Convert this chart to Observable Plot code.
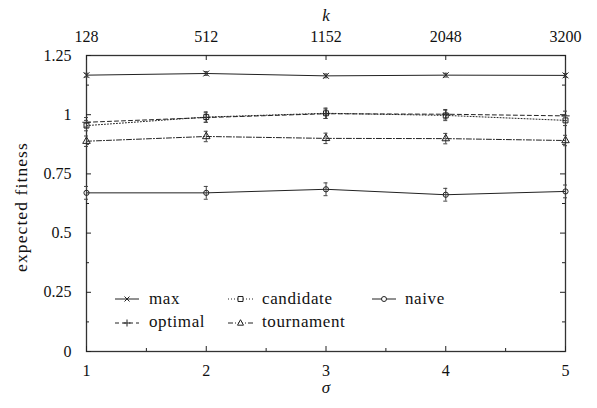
<!DOCTYPE html>
<html><head><meta charset="utf-8">
<script src="https://cdn.jsdelivr.net/npm/d3@7"></script>
<script src="https://cdn.jsdelivr.net/npm/@observablehq/plot@0.6"></script>
<style>
body{margin:0;background:#fff;}
#wrap{position:relative;width:597px;height:408px;font-family:"Liberation Serif",serif;}
#legend{position:absolute;left:0;top:0;pointer-events:none;}
</style></head>
<body><div id="wrap"></div>
<script>
const sigma = [1, 2, 3, 4, 5];
const kLabels = [128, 512, 1152, 2048, 3200];
const yTicks = [0, 0.25, 0.5, 0.75, 1, 1.25];
const yMinor = [0.125, 0.375, 0.625, 0.875, 1.125];
const xMinor = [1.5, 2.5, 3.5, 4.5];

const maxVals = [1.167, 1.174, 1.164, 1.167, 1.166];
const maxErr = [0.008, 0.008, 0.008, 0.008, 0.008];
const optimalVals = [0.968, 0.988, 1.004, 1.002, 0.995];
const optimalErr = [0.02, 0.02, 0.02, 0.02, 0.02];
const candidateVals = [0.954, 0.990, 1.006, 0.997, 0.976];
const candidateErr = [0.022, 0.022, 0.022, 0.022, 0.022];
const tournamentVals = [0.888, 0.908, 0.900, 0.899, 0.891];
const tournamentErr = [0.022, 0.022, 0.022, 0.022, 0.022];
const naiveVals = [0.670, 0.670, 0.685, 0.662, 0.676];
const naiveErr = [0.027, 0.027, 0.027, 0.027, 0.027];

const seriesDefs = [
  {name: "max", vals: maxVals, err: maxErr, symbol: "times", dash: null},
  {name: "optimal", vals: optimalVals, err: optimalErr, symbol: "plus", dash: "4,3"},
  {name: "candidate", vals: candidateVals, err: candidateErr, symbol: "square", dash: "1,2"},
  {name: "tournament", vals: tournamentVals, err: tournamentErr, symbol: "triangle", dash: "5,2,1,2"},
  {name: "naive", vals: naiveVals, err: naiveErr, symbol: "circle", dash: null}
];

const W = 597, H = 408, mL = 86, mR = 32, mT = 55, mB = 57;
const pW = W - mL - mR, pH = H - mT - mB;
const ink = "#222";
const FONT = '"Liberation Serif", serif';

const marks = [];
for (const s of seriesDefs) {
  const data = sigma.map((x, i) => ({x, v: s.vals[i], e: s.err[i]}));
  marks.push(Plot.line(data, {x: "x", y: "v", stroke: ink, strokeWidth: 1, strokeDasharray: s.dash}));
  marks.push(Plot.ruleX(data, {x: "x", y1: d => d.v - d.e, y2: d => d.v + d.e, stroke: "#444", strokeWidth: 1}));
  marks.push(Plot.ruleY(data, {y: d => d.v - d.e, x1: "x", x2: "x", insetLeft: -2, insetRight: -2, stroke: "#444", strokeWidth: 1}));
  marks.push(Plot.ruleY(data, {y: d => d.v + d.e, x1: "x", x2: "x", insetLeft: -2, insetRight: -2, stroke: "#444", strokeWidth: 1}));
  marks.push(Plot.dot(data, {x: "x", y: "v", symbol: () => s.symbol, r: s.symbol === "circle" ? 2.6 : 2.8, stroke: ink, fill: "none", strokeWidth: 1}));
}

const chart = Plot.plot({
  width: W, height: H,
  marginLeft: mL, marginRight: mR, marginTop: mT, marginBottom: mB,
  style: {fontFamily: FONT, fontSize: "16px", color: "#111", background: "#fff"},
  x: {domain: [1, 5]},
  y: {domain: [0, 1.25]},
  symbol: {type: "identity"},
  marks: [
    Plot.frame({stroke: "#333", strokeWidth: 1.3}),
    Plot.axisX(sigma, {anchor: "bottom", tickSize: 0, tickPadding: 13, tickFormat: d => String(d), label: null, fontSize: 16}),
    Plot.axisX(sigma, {anchor: "top", tickSize: 0, tickPadding: 14, tickFormat: d => String(kLabels[sigma.indexOf(d)]), label: null, fontSize: 16}),
    Plot.axisY(yTicks, {anchor: "left", tickSize: 0, tickPadding: 15, tickFormat: d => String(d), label: null, fontSize: 16}),
    // inward ticks
    Plot.tickX(sigma, {x: d => d, insetTop: pH - 5, stroke: ink}),
    Plot.tickX(xMinor, {x: d => d, insetTop: pH - 3, stroke: ink}),
    Plot.tickX(sigma, {x: d => d, insetBottom: pH - 5, stroke: ink}),
    Plot.tickY(yTicks, {y: d => d, insetRight: pW - 5, stroke: ink}),
    Plot.tickY(yMinor, {y: d => d, insetRight: pW - 3, stroke: ink}),
    Plot.tickY(yTicks, {y: d => d, insetLeft: pW - 5, stroke: ink}),
    Plot.tickY(yMinor, {y: d => d, insetLeft: pW - 3, stroke: ink}),
    ...marks,
    Plot.text(["σ"], {frameAnchor: "bottom", dy: 41, fontStyle: "italic", fontSize: 17, fill: "#111"}),
    Plot.text(["k"], {frameAnchor: "top", dy: -47, fontStyle: "italic", fontSize: 17, fill: "#111"})
  ]
});
document.getElementById("wrap").appendChild(chart);

// overlay: y-axis title and legend
const NS = "http://www.w3.org/2000/svg";
const lg = document.createElementNS(NS, "svg");
lg.setAttribute("id", "legend");
lg.setAttribute("width", W); lg.setAttribute("height", H);

const yTitle = document.createElementNS(NS, "text");
yTitle.setAttribute("transform", "translate(21,207) rotate(-90)");
yTitle.setAttribute("text-anchor", "middle");
yTitle.setAttribute("dy", "0.32em");
yTitle.setAttribute("style", `font-family:${FONT};font-size:17.5px;letter-spacing:1.1px`);
yTitle.setAttribute("fill", "#111");
yTitle.textContent = "expected fitness";
lg.appendChild(yTitle);

const legendPos = [
  {col: 0, row: 0}, {col: 0, row: 1}, {col: 1, row: 0}, {col: 1, row: 1}, {col: 2, row: 0}
];
const colSample = [[115, 139], [228, 253], [372, 396]];
const colText = [149, 262, 405];
const rowY = [299, 323];
const rowBase = [304, 327];
function sym(g, type, cx, cy) {
  const p = document.createElementNS(NS, "path");
  let d;
  if (type === "times") d = `M${cx-2.5},${cy-2.5}L${cx+2.5},${cy+2.5}M${cx-2.5},${cy+2.5}L${cx+2.5},${cy-2.5}`;
  else if (type === "plus") d = `M${cx-3.5},${cy}L${cx+3.5},${cy}M${cx},${cy-3.5}L${cx},${cy+3.5}`;
  else if (type === "square") d = `M${cx-2.5},${cy-2.5}h5v5h-5z`;
  else if (type === "triangle") d = `M${cx},${cy-3.3}L${cx+3},${cy+2.2}L${cx-3},${cy+2.2}z`;
  else d = `M${cx+2.5},${cy}A2.5,2.5 0 1 1 ${cx-2.5},${cy}A2.5,2.5 0 1 1 ${cx+2.5},${cy}`;
  p.setAttribute("d", d); p.setAttribute("fill", "#fff"); p.setAttribute("stroke", ink); p.setAttribute("stroke-width", 1);
  g.appendChild(p);
}
seriesDefs.forEach((s, i) => {
  const {col, row} = legendPos[i];
  const y = rowY[row];
  const [x1, x2] = colSample[col];
  const l = document.createElementNS(NS, "line");
  l.setAttribute("x1", x1); l.setAttribute("x2", x2); l.setAttribute("y1", y); l.setAttribute("y2", y);
  l.setAttribute("stroke", ink); l.setAttribute("stroke-width", 1);
  if (s.dash) l.setAttribute("stroke-dasharray", s.dash);
  lg.appendChild(l);
  sym(lg, s.symbol, (x1 + x2) / 2, y);
  const t = document.createElementNS(NS, "text");
  t.setAttribute("x", colText[col]); t.setAttribute("y", rowBase[row]);
  t.setAttribute("style", `font-family:${FONT};font-size:17px;letter-spacing:0.6px`); t.setAttribute("fill", "#111");
  t.textContent = s.name;
  lg.appendChild(t);
});
document.getElementById("wrap").appendChild(lg);
</script></body></html>
